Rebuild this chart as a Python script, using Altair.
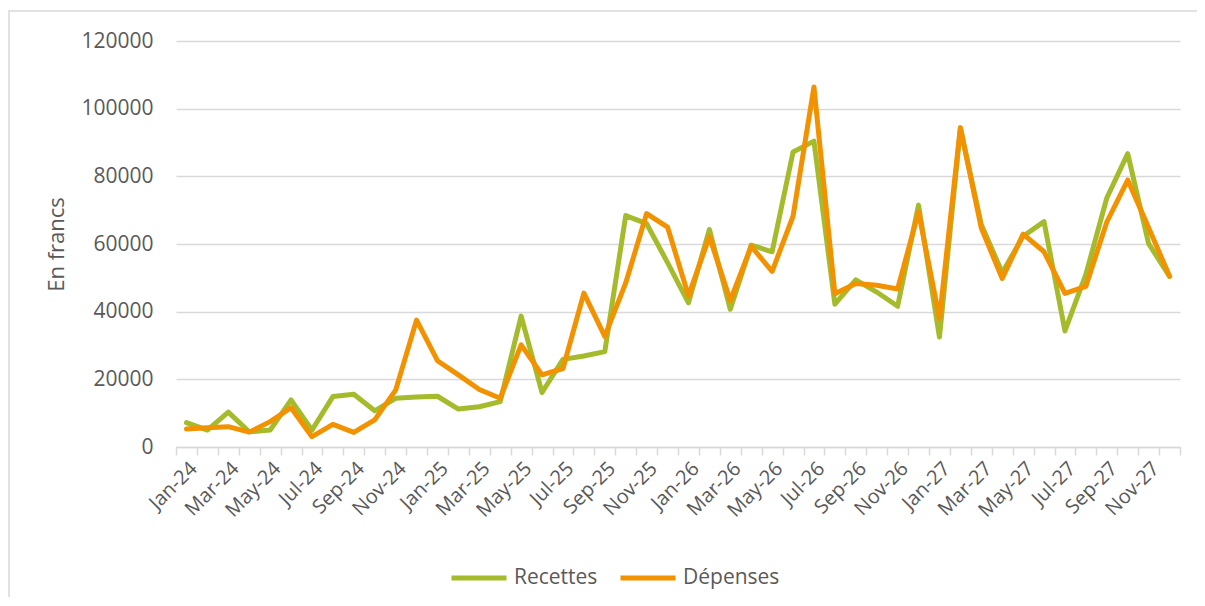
import altair as alt
import pandas as pd

mois_noms = ["Jan", "Feb", "Mar", "Apr", "May", "Jun", "Jul", "Aug", "Sep", "Oct", "Nov", "Dec"]
annees = ["24", "25", "26", "27"]
mois = [f"{m}-{a}" for a in annees for m in mois_noms]

recettes = [7200, 5000, 10300, 4500, 5000, 13900, 5000, 14900, 15600, 10700, 14400, 14800,
            15000, 11200, 11900, 13400, 38700, 16100, 25900, 26900, 28200, 68400, 66000, 54500,
            42600, 64300, 40700, 59700, 57700, 87200, 90400, 42200, 49400, 45800, 41600, 71500,
            32500, 94100, 65800, 51500, 62300, 66600, 34300, 51000, 73600, 86700, 60100, 50400]
depenses = [5300, 5700, 6000, 4400, 7500, 11600, 3050, 6700, 4300, 8000, 16800, 37500,
            25500, 21300, 17000, 14400, 30200, 21300, 23200, 45500, 32700, 48500, 69000, 65000,
            44700, 62200, 43300, 59300, 51900, 68200, 106400, 45300, 48300, 47800, 46700, 69500,
            38000, 94400, 64700, 49800, 62900, 57700, 45400, 47500, 66500, 78900, 64800, 50500]
series = ["Recettes", "Dépenses"]
couleurs = ["#A5BB2B", "#F39200"]
y_ticks = [0, 20000, 40000, 60000, 80000, 100000, 120000]
mois_affiches = ["Jan", "Mar", "May", "Jul", "Sep", "Nov"]

rows = []
for nom, vals in zip(series, [recettes, depenses]):
    for m, v in zip(mois, vals):
        rows.append({"mois": m, "serie": nom, "valeur": v})
df = pd.DataFrame(rows)

grey_txt = "#595959"
grid_col = "#D9D9D9"

label_expr = ("isString(datum.value) && indexof(['" + "','".join(mois_affiches) +
              "'], slice(datum.value, 0, 3)) >= 0 ? datum.value : ''")

lines = alt.Chart(df).mark_line(strokeWidth=5, strokeJoin="round", strokeCap="round").encode(
    x=alt.X("mois:N", sort=mois,
            scale=alt.Scale(type="band", paddingInner=0, paddingOuter=0),
            axis=alt.Axis(title=None, tickBand="extent", ticks=True, tickSize=8,
                          tickColor=grid_col, tickWidth=1.5, domainColor=grid_col,
                          domainWidth=1.5, grid=False, labelAngle=-45, labelAlign="right",
                          labelBaseline="top", labelPadding=3, labelFontSize=20,
                          labelColor=grey_txt, labelOverlap=False, labelExpr=label_expr)),
    y=alt.Y("valeur:Q", scale=alt.Scale(domain=[0, 120000]),
            axis=alt.Axis(title="En francs", values=y_ticks, format="d", domain=False,
                          ticks=False, grid=True, gridColor=grid_col, gridWidth=1.3,
                          labelFontSize=21, labelColor=grey_txt, labelPadding=23,
                          titleFontSize=22, titleColor=grey_txt, titleFontWeight="normal",
                          titlePadding=12)),
    color=alt.Color("serie:N", scale=alt.Scale(domain=series, range=couleurs),
                    legend=alt.Legend(title=None, orient="none", direction="horizontal",
                                      legendX=273, legendY=507, symbolType="stroke",
                                      symbolSize=3025, symbolStrokeWidth=5,
                                      labelFontSize=21, labelColor=grey_txt,
                                      labelOffset=5, columnPadding=12)),
)

border = alt.Chart(alt.Data(values=[{"a": 1}])).mark_rect(
    fill="transparent", stroke=grid_col, strokeWidth=1.5
).encode(
    x=alt.value(-167), x2=alt.value(1040), y=alt.value(-30), y2=alt.value(600)
)

chart = alt.layer(border, lines).properties(
    width=1004, height=406,
    autosize=alt.AutoSizeParams(type="none"),
    padding={"left": 168, "top": 33, "right": 17, "bottom": 150},
).configure(font="Open Sans").configure_view(strokeWidth=0)

chart.save("out.html", embed_options={"renderer": "svg", "actions": False})
